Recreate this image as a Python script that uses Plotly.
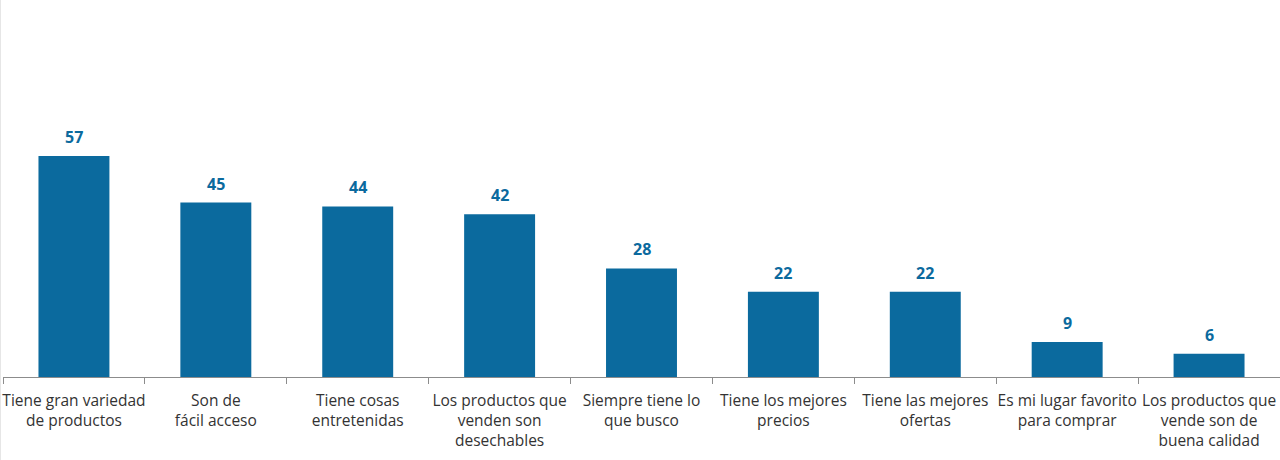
import plotly.graph_objects as go

categories = [
    "Tiene gran variedad<br>de productos",
    "Son de<br>fácil acceso",
    "Tiene cosas<br>entretenidas",
    "Los productos que<br>venden son<br>desechables",
    "Siempre tiene lo<br>que busco",
    "Tiene los mejores<br>precios",
    "Tiene las mejores<br>ofertas",
    "Es mi lugar favorito<br>para comprar",
    "Los productos que<br>vende son de<br>buena calidad",
]
values = [57, 45, 44, 42, 28, 22, 22, 9, 6]

BLUE = "#0b6a9e"
FONT = "Open Sans, sans-serif"
W, H = 1280, 460
ML, MR, MT, MB = 3, 0, 20, 83
px_per_unit = 3.877
ymax = (H - MT - MB) / px_per_unit

fig = go.Figure(
    go.Bar(
        x=categories,
        y=values,
        marker=dict(color=BLUE, line=dict(width=0)),
        hoverinfo="skip",
    )
)

for c, v in zip(categories, values):
    fig.add_annotation(
        x=c,
        y=v,
        text=f"<b>{v}</b>",
        showarrow=False,
        yanchor="bottom",
        yshift=6,
        font=dict(family=FONT, size=16, color=BLUE),
    )

fig.update_layout(
    width=W,
    height=H,
    margin=dict(l=ML, r=MR, t=MT, b=MB, autoexpand=False),
    paper_bgcolor="white",
    plot_bgcolor="white",
    bargap=0.5,
    showlegend=False,
    font=dict(family=FONT, size=15, color="#333333"),
)
fig.update_xaxes(
    automargin=False,
    showline=True,
    linecolor="#8c8c8c",
    linewidth=1,
    ticks="outside",
    tickson="boundaries",
    ticklen=6,
    tickcolor="#8c8c8c",
    tickangle=0,
    ticklabelstandoff=9,
    tickfont=dict(family=FONT, size=15.5, color="#333333"),
    showgrid=False,
)
fig.update_yaxes(
    automargin=False,
    range=[0, ymax],
    visible=False,
    showgrid=False,
    zeroline=False,
)
plot_w = W - ML - MR
fig.add_shape(
    type="line",
    xref="paper",
    yref="paper",
    x0=-2.5 / plot_w,
    x1=-2.5 / plot_w,
    y0=-MB / (H - MT - MB),
    y1=1 + MT / (H - MT - MB),
    line=dict(color="#e6e6e6", width=1),
)

fig.write_html(
    "out.html",
    config={"displayModeBar": False},
    post_script="document.body.style.margin='0';document.body.style.overflow='hidden';",
)
